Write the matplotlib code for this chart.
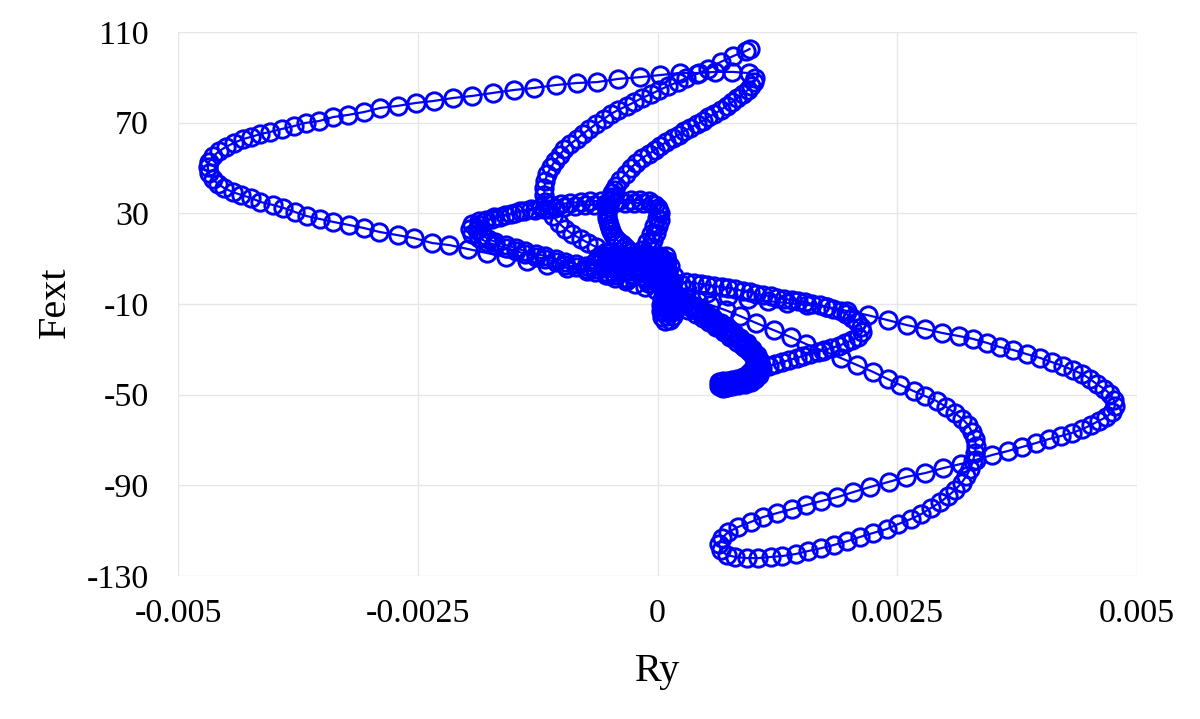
import numpy as np
import matplotlib
matplotlib.use("Agg")
import matplotlib.pyplot as plt

# ---------------- data (Ry, Fext), in time order ----------------
# hook at the lower end of the central band, then the band rising to the centre
ry_band1 = [0.00066, 0.00067, 0.00073, 0.00079, 0.00085, 0.00092, 0.00097, 0.00102, 0.00106, 0.00108,
            0.00107, 0.00104, 0.00099, 0.00093, 0.00086, 0.00080, 0.00073, 0.00066, 0.00058, 0.00051,
            0.00044, 0.00036, 0.00029, 0.00022]
f_band1 = [-46.6, -46.6, -46.2, -45.7, -44.9, -44.0, -43.1, -41.8, -40.0, -37.8,
           -35.2, -32.5, -29.9, -27.2, -25.0, -22.8, -20.6, -18.4, -16.2, -14.0,
           -12.2, -10.4, -8.7, -6.9]

# band back down to the hook (dense)
ry_band3 = [0.00024, 0.00028, 0.00032, 0.00036, 0.00040, 0.00044, 0.00047, 0.00051, 0.00054, 0.00058,
            0.00061, 0.00066, 0.00069, 0.00073, 0.00076, 0.00080, 0.00083, 0.000875, 0.00091, 0.00094,
            0.00097, 0.00100, 0.00102, 0.00104, 0.00105, 0.00105]
f_band3 = [-8.7, -9.6, -10.9, -11.8, -12.7, -13.5, -14.4, -15.3, -16.2, -17.5,
           -18.4, -19.7, -20.6, -21.9, -22.8, -24.1, -25.0, -26.3, -27.7, -29.0,
           -30.3, -32.1, -33.4, -35.2, -36.9, -38.7]

# slow motion around the hook
ry_hook = [0.00103, 0.00100, 0.00096, 0.00092, 0.000875, 0.00083, 0.00079, 0.00075, 0.00071, 0.00067,
           0.00064, 0.00064, 0.00068, 0.00073, 0.00078, 0.00083, 0.00089, 0.00094, 0.00098, 0.00101]
f_hook = [-40.5, -41.8, -43.1, -44.0, -44.9, -45.3, -45.7, -46.2, -46.6, -46.6,
          -46.2, -44.4, -44.0, -44.0, -43.5, -43.1, -42.2, -40.9, -39.6, -37.8]

# small knob below the centre
ry_knob = [0.00011, 0.00011, 0.00011, 0.00011, 0.00010, 0.00007, 0.00007, 0.00007, 0.00015, 0.00015,
           0.00015,
           0.00016, 0.00017, 0.00017, 0.00016, 0.00013, 0.00008, 0.00005, 0.00004, 0.00004, 0.00005,
           0.00007, 0.00010, 0.00011, 0.00010, 0.00007, 0.00002, -0.00005, -0.00007, -0.00005]
f_knob = [-6.5, -8.7, -10.9, -13.1, -15.3, -13.5, -10.9, -8.2, -8.2, -10.9,
          -13.5,
          -7.4, -10.0, -12.7, -15.3, -17.1, -17.5, -15.7, -13.1, -10.4, -7.8,
          -5.2, -1.6, 1.9, 5.4, 8.5, 10.3, 8.5, 5.0, 0.6]

# dense central cluster
ry_core = [-0.00059, -0.00047, -0.00033, -0.00020, -0.00007, 0.00005, 0.00016, 0.00011, 0.00003, -0.00009,
           -0.00023, -0.00036, -0.00049, -0.00059, -0.00065, -0.00054, -0.00041, -0.00026, -0.00011, 0.00003,
           0.00016,
           0.000115, 0.00005, 0.00001, 0.00007, 0.000135, 0.00017, 0.00010, 0.00004, -0.00002, -0.00008,
           -0.00015, -0.00033, -0.00027, -0.00021, -0.00015, -0.00008, -0.00002, 0.00004, 0.00010, 0.000135,
           0.00007, 0.00001, -0.00005, -0.000115, -0.00018, -0.00024, -0.00030, -0.00037, -0.00043, -0.00049,
           -0.00058, -0.00052, -0.00046, -0.00040, -0.00033, -0.00027, -0.00021, -0.00015, -0.00008, -0.00002,
           0.00004, 0.00010, 0.00009, 0.00003, -0.00003, -0.00009, -0.00016, -0.00022, -0.00028, -0.00034,
           -0.00041, -0.00047, -0.00053, -0.00059]
f_core = [10.3, 8.5, 6.8, 5.0, 3.2, 1.5, -0.3, 4.1, 6.8, 8.5,
          10.3, 11.6, 12.9, 11.6, 8.5, 5.9, 4.1, 2.4, 0.6, -1.6,
          -3.8,
          -2.1, -2.1, 0.1, 0.1, 0.1, 2.4, 2.4, 2.4, 2.4, 2.4,
          2.4, 4.6, 4.6, 4.6, 4.6, 4.6, 4.6, 4.6, 4.6, 6.8,
          6.8, 6.8, 6.8, 6.8, 6.8, 6.8, 6.8, 6.8, 6.8, 6.8,
          9.0, 9.0, 9.0, 9.0, 9.0, 9.0, 9.0, 9.0, 9.0, 9.0,
          9.0, 9.0, 11.2, 11.2, 11.2, 11.2, 11.2, 11.2, 11.2, 11.2,
          11.2, 11.2, 11.2, 11.2]

# left loop, first cycle
ry_left1 = [-0.00002, -0.00013, -0.00023, -0.00033, -0.00044, -0.00054, -0.00065, -0.00075, -0.00085, -0.00096,
            -0.00106, -0.00117, -0.00127, -0.00138, -0.00148, -0.00158, -0.00169, -0.00178, -0.00186, -0.00193,
            -0.00196, -0.00193, -0.00186, -0.00179, -0.00170, -0.00159, -0.00149, -0.00139, -0.00128, -0.00118,
            -0.00107, -0.00097, -0.00086, -0.00076, -0.00066, -0.00055, -0.00045, -0.00034, -0.00024, -0.00015,
            -0.00006, 0.00000, 0.00003, 0.00003, 0.00001, -0.00002, -0.00005, -0.00008, -0.00011, -0.00015]
f_left1 = [-3.8, -2.5, -1.2, 0.1, 1.5, 2.8, 4.1, 5.4, 6.3, 7.2,
           8.5, 9.9, 10.7, 12.1, 13.4, 14.7, 16.0, 17.4, 19.1, 20.9,
           23.1, 25.3, 26.6, 27.1, 28.4, 29.3, 30.1, 31.1, 31.5, 31.9,
           32.4, 32.8, 33.2, 33.7, 33.7, 34.1, 34.6, 34.6, 34.6, 34.6,
           34.1, 32.4, 30.1, 27.1, 24.4, 21.3, 18.2, 15.1, 12.1, 9.0]

# left loop, second cycle
ry_left2 = [-0.00033, -0.00044, -0.00054, -0.00065, -0.00075, -0.00085, -0.00096, -0.00106, -0.00117, -0.00127,
            -0.00138, -0.00148, -0.00158, -0.00169, -0.00177, -0.00183, -0.00188, -0.00186, -0.00181, -0.00173,
            -0.00164, -0.00153, -0.00143, -0.00132, -0.00122, -0.00111, -0.00101, -0.00091, -0.00080, -0.00070,
            -0.00059, -0.00049, -0.00039, -0.00028, -0.00018, -0.00009, -0.00003, 0.00000, -0.00001, -0.00004,
            -0.00007, -0.00011, -0.00016, -0.00020, -0.00018, -0.00007, 0.00003, 0.00014, 0.00024]
f_left2 = [1.5, 2.8, 4.1, 5.4, 6.8, 7.6, 8.5, 9.9, 11.2, 12.1,
           13.4, 14.7, 16.0, 17.4, 18.7, 20.4, 22.7, 24.9, 26.2, 27.5,
           28.4, 29.7, 31.1, 31.9, 32.8, 33.7, 34.1, 34.6, 35.0, 35.4,
           35.4, 35.9, 35.9, 35.9, 35.9, 35.4, 33.7, 31.1, 27.9, 24.4,
           20.9, 17.4, 13.8, 10.3, 6.8, 4.1, 1.5, -0.3, -1.2]

# middle-right loop, hook and central band again
ry_mid = [0.00030, 0.00038, 0.00045, 0.00052, 0.00059, 0.00067, 0.00074, 0.00081, 0.00089, 0.00096,
          0.00103, 0.00110, 0.00118, 0.00125, 0.00132, 0.00140, 0.00147, 0.00154, 0.00161, 0.00169,
          0.00176, 0.00183, 0.00191, 0.00197, 0.00203, 0.00208, 0.002125, 0.002135,
          0.00209, 0.00203, 0.00196, 0.00189, 0.00181, 0.00174, 0.00167, 0.00159, 0.00152, 0.00145,
          0.001375, 0.00130, 0.00123, 0.00116, 0.00109,
          0.00103, 0.00097, 0.00091, 0.00084, 0.00078, 0.00072, 0.00067, 0.00065, 0.00068,
          0.00072, 0.00078, 0.00084, 0.00091, 0.00097, 0.00102, 0.00106, 0.00107, 0.00105, 0.00101,
          0.00096, 0.00090, 0.00083, 0.00076, 0.00069, 0.00061, 0.00054, 0.00047, 0.00040, 0.00032,
          0.00025, 0.00018, 0.00010]
f_mid = [-0.3, -0.7, -1.2, -1.6, -2.1, -2.5, -2.9, -3.4, -4.3, -4.7,
         -5.6, -6.0, -6.5, -7.4, -7.8, -8.2, -8.7, -9.1, -10.0, -10.4,
         -11.3, -12.2, -13.1, -14.4, -16.2, -17.9, -20.2, -22.4,
         -24.6, -25.9, -27.2, -28.5, -29.4, -30.3, -31.2, -32.1, -32.9, -33.8,
         -34.7, -35.6, -36.5, -37.4, -38.2,
         -39.6, -41.3, -42.7, -44.0, -44.9, -45.7, -46.2, -44.9, -47.1,
         -46.6, -46.2, -45.7, -45.3, -44.4, -43.1, -41.3, -38.7, -36.5, -33.8,
         -31.2, -29.0, -26.8, -24.6, -22.4, -20.2, -17.9, -16.2, -14.4, -12.7,
         -10.4, -8.7, -6.9]

# dense branch rising to the upper right
ry_rise = [-0.00028, -0.00031, -0.00034, -0.000375, -0.00041, -0.00044, -0.00046, -0.00048, -0.00050, -0.00051,
           -0.00052, -0.00053, -0.00053, -0.00053, -0.00052, -0.00051, -0.00050, -0.00049, -0.00047, -0.00045,
           -0.00043, -0.00039, -0.00033, -0.00028, -0.00022, -0.00016, -0.00009, -0.00003, 0.00003, 0.00009,
           0.00016, 0.00022, 0.00028, 0.00034, 0.00041, 0.00047, 0.00053, 0.00059, 0.00066, 0.00072,
           0.00078, 0.00083, 0.00089, 0.00094, 0.00098, 0.00101, 0.00102]
f_rise = [12.9, 13.8, 15.1, 16.5, 17.8, 19.1, 20.4, 22.2, 23.5, 24.9,
          26.6, 27.9, 29.7, 31.1, 32.8, 34.1, 35.9, 37.2, 39.0, 40.3,
          42.1, 44.7, 47.4, 50.0, 52.2, 54.4, 56.2, 57.9, 59.7, 61.5,
          63.2, 64.6, 66.3, 67.6, 69.4, 70.7, 72.5, 73.8, 75.6, 77.4,
          79.1, 80.9, 82.6, 84.4, 86.2, 87.9, 89.7]

# large sweep: top line to the left, back through the centre, far right and lower loop
ry_big = [0.00095, 0.00078, 0.00060, 0.00043, 0.00023, 0.00003, -0.00018, -0.00041, -0.00063, -0.00084,
          -0.00106, -0.00129, -0.00150, -0.00172, -0.00193, -0.00213, -0.00233, -0.00252, -0.00271, -0.00289,
          -0.00306, -0.00323, -0.00338, -0.00353, -0.00367, -0.00379, -0.00392, -0.00404, -0.00414, -0.00424,
          -0.00432, -0.00442, -0.00450, -0.00457, -0.00463, -0.00468, -0.00469, -0.00468, -0.00464, -0.00458,
          -0.00452, -0.00443, -0.00434, -0.00424, -0.00414, -0.00401, -0.00390, -0.00378, -0.00366, -0.00352,
          -0.00338, -0.00322, -0.00306, -0.00290, -0.00271, -0.00254, -0.00235, -0.00217, -0.00198, -0.00178,
          -0.00158, -0.00136, -0.00115, -0.00094, -0.00073, -0.00052, -0.00031, -0.00010, 0.00010, 0.00031,
          0.00052, 0.00073, 0.00094, 0.00115, 0.00135, 0.00156, 0.00177, 0.00198, 0.00219, 0.00240,
          0.00260, 0.00279, 0.00297, 0.00314, 0.00329, 0.00344, 0.00357, 0.00371, 0.00385, 0.00399,
          0.00411, 0.00423, 0.00433, 0.00443, 0.00451, 0.00458, 0.00466, 0.00472, 0.00476, 0.00477,
          0.00474, 0.00468, 0.00460, 0.00452, 0.00443, 0.00432, 0.00421, 0.00408, 0.00395, 0.00380,
          0.00365, 0.00349, 0.00332, 0.00316, 0.00298, 0.00279, 0.00259, 0.00241, 0.00222, 0.00204,
          0.001875, 0.00171, 0.00155, 0.00140, 0.00125, 0.00110, 0.00097, 0.00084, 0.00074, 0.00067,
          0.00064, 0.00066, 0.00072, 0.00081, 0.00093, 0.00105, 0.00118, 0.00130, 0.00144, 0.00157,
          0.00171, 0.00184, 0.00198, 0.00211, 0.00225, 0.00239, 0.00251, 0.00264, 0.00275, 0.00285,
          0.00295, 0.00303, 0.00310, 0.00317, 0.00322, 0.00326, 0.00329, 0.00331, 0.00332, 0.00331,
          0.00328, 0.00324, 0.00318, 0.00310, 0.00301, 0.00291, 0.00279, 0.00267, 0.00253, 0.00240,
          0.00225, 0.00208, 0.00191, 0.00173, 0.00155, 0.00139, 0.00121, 0.00103, 0.00086, 0.00071,
          0.00055, 0.00042, 0.00029]
f_big = [91.9, 92.4, 92.4, 91.9, 91.9, 91.0, 90.1, 89.3, 87.9, 87.5,
         86.6, 85.3, 84.4, 83.1, 81.8, 80.9, 79.6, 78.7, 77.4, 76.5,
         74.7, 73.4, 72.5, 70.7, 69.9, 68.5, 67.2, 65.9, 65.0, 63.7,
         62.8, 61.0, 59.3, 57.5, 55.3, 52.6, 50.4, 47.8, 45.1, 42.9,
         41.2, 39.4, 38.1, 36.8, 35.0, 33.7, 32.4, 30.6, 28.8, 27.5,
         26.2, 24.9, 23.5, 21.8, 20.4, 19.1, 16.9, 16.0, 14.3, 12.5,
         10.7, 9.0, 7.2, 5.9, 4.6, 2.8, 1.0, -0.7, -2.5, -3.8,
         -5.2, -6.5, -7.8, -8.7, -9.6, -10.4, -11.3, -13.1, -14.9, -17.1,
         -19.3, -21.0, -22.8, -24.1, -25.4, -27.2, -29.0, -30.3, -32.1, -33.8,
         -35.6, -37.4, -39.1, -40.9, -43.1, -45.3, -47.5, -49.7, -52.4, -55.0,
         -57.7, -59.9, -61.6, -63.4, -65.2, -66.9, -68.2, -69.6, -71.3, -73.1,
         -74.9, -76.6, -78.8, -80.6, -82.4, -84.6, -86.3, -88.5, -90.7, -93.0,
         -95.2, -96.9, -98.7, -100.5, -102.2, -104.0, -106.2, -108.4, -110.6, -113.2,
         -115.9, -118.5, -120.7, -121.6, -122.1, -122.1, -121.6, -121.2, -120.3, -119.0,
         -117.7, -116.3, -114.6, -112.8, -111.0, -109.3, -107.1, -104.9, -102.7, -100.0,
         -97.4, -94.7, -92.1, -89.0, -85.9, -82.8, -79.3, -75.7, -72.7, -69.6,
         -66.5, -63.4, -60.7, -58.1, -55.4, -52.8, -50.6, -48.4, -45.7, -43.1,
         -40.0, -36.9, -33.8, -30.7, -27.7, -24.6, -21.5, -18.4, -15.3, -12.7,
         -10.4, -8.7, -6.9]

# S-shaped branch ending at the top peak
ry_top = [-0.00033, -0.00044, -0.00054, -0.00064, -0.00072, -0.00080, -0.00089, -0.00096, -0.00103, -0.00109,
          -0.00114, -0.00117, -0.00118, -0.00118, -0.00117, -0.00115, -0.00111, -0.00107, -0.00102, -0.00097,
          -0.00091, -0.00084, -0.00078, -0.00071, -0.00064, -0.00056, -0.00049, -0.00041, -0.00032, -0.00024,
          -0.00016, -0.00007, 0.00002, 0.00011, 0.00021, 0.00030, 0.00041, 0.00053, 0.00066, 0.00079,
          0.00092, 0.00096]
f_top = [8.5, 11.2, 12.9, 15.1, 16.9, 18.7, 20.9, 23.1, 25.7, 28.8,
         31.9, 35.0, 38.1, 41.2, 44.3, 47.4, 50.4, 53.1, 55.7, 58.4,
         60.6, 62.8, 65.0, 67.2, 69.4, 71.6, 73.8, 75.6, 77.4, 79.1,
         80.9, 82.6, 84.4, 86.2, 87.9, 89.7, 91.5, 93.7, 96.8, 99.4,
         101.6, 102.5]

x_ticks = [-0.005, -0.0025, 0, 0.0025, 0.005]
x_tick_labels = ["-0.005", "-0.0025", "0", "0.0025", "0.005"]
y_ticks = [110, 70, 30, -10, -50, -90, -130]
y_tick_labels = ["110", "70", "30", "-10", "-50", "-90", "-130"]

ry = np.concatenate([ry_band1, ry_band3, ry_hook, ry_knob, ry_core, ry_left1, ry_left2,
                     ry_mid, ry_rise, ry_big, ry_top])
fext = np.concatenate([f_band1, f_band3, f_hook, f_knob, f_core, f_left1, f_left2,
                       f_mid, f_rise, f_big, f_top])

# ---------------- figure ----------------
plt.rcParams['font.family'] = ['Liberation Serif', 'DejaVu Serif']
fig = plt.figure(figsize=(12, 7.19), dpi=100)
ax = fig.add_axes([178 / 1200, 1 - 576 / 719, (1137 - 178) / 1200, (576 - 32) / 719])

ax.plot(ry, fext, color='#0000FF', lw=1.6, marker='o', markersize=12.5,
        markerfacecolor='none', markeredgecolor='#0000FF', markeredgewidth=2.1,
        clip_on=False, zorder=3)

ax.set_xlim(-0.005, 0.005)
ax.set_ylim(-130, 110)
ax.set_xticks(x_ticks)
ax.set_xticklabels(x_tick_labels)
ax.set_yticks(y_ticks)
ax.set_yticklabels(y_tick_labels)
ax.tick_params(axis='both', length=0, labelsize=24.5, colors='black')
ax.tick_params(axis='x', pad=16)
ax.tick_params(axis='y', pad=21)

for s in ax.spines.values():
    s.set_visible(False)
ax.grid(True, color='#e6e6e6', lw=1.0)
ax.set_axisbelow(True)

ax.set_xlabel('Ry', fontsize=29)
ax.xaxis.set_label_coords(0.5, (576 - 672) / 544)
ax.xaxis.label.set_va('center')
ax.set_ylabel('Fext', fontsize=29)
ax.yaxis.set_label_coords((55 - 178) / 959, (576 - 302) / 544)
ax.yaxis.label.set_va('center')

fig.savefig('out.png', dpi=100, facecolor='white')
